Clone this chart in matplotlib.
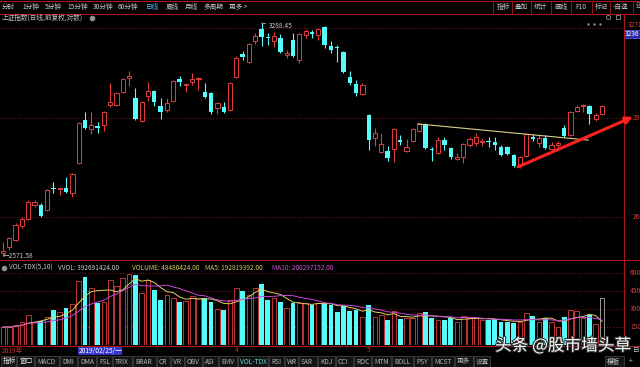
import matplotlib
matplotlib.use("Agg")
import numpy as np
import pandas as pd
import matplotlib.pyplot as plt
from matplotlib.patches import Rectangle
from matplotlib import patheffects

plt.rcParams['font.family'] = ['Noto Sans CJK SC', 'DejaVu Sans']

W, H = 640, 367

# 上证指数 daily candles
opens = [2580, 2596, 2615, 2654, 2674, 2714, 2714, 2699, 2763, 2760,
         2763, 2748, 2836, 2968, 2941, 2950, 2953, 3016, 3016, 3058,
         3103, 3038, 2966, 3045, 3061, 3012, 3000, 3028, 3100, 3080,
         3090, 3100, 3058, 3054, 3006, 3009, 3000, 3106, 3182, 3156,
         3226, 3268, 3240, 3226, 3236, 3179, 3230, 3162, 3247, 3257,
         3247, 3274, 3209, 3206, 3189, 3106, 3083, 3051, 2984, 2912,
         2870, 2873, 2879, 2906, 2873, 2903, 2934, 2956, 2879, 2867,
         2906, 2882, 2849, 2855, 2891, 2897, 2900, 2903, 2900, 2885,
         2885, 2861, 2834, 2858, 2916, 2897, 2912, 2879, 2891, 2943,
         2922, 2997, 3013, 3012, 2971, 2987]
highs = [2610, 2624, 2663, 2680, 2728, 2728, 2719, 2760, 2780, 2766,
         2795, 2807, 2962, 2993, 2993, 2962, 2997, 3086, 3058, 3103,
         3126, 3070, 3028, 3090, 3064, 3038, 3038, 3096, 3109, 3086,
         3119, 3106, 3086, 3058, 3025, 3025, 3090, 3175, 3192, 3220,
         3254, 3288.45, 3254, 3257, 3250, 3196, 3254, 3254, 3268, 3264,
         3271, 3278, 3226, 3213, 3192, 3126, 3096, 3086, 2987, 2943,
         2928, 2888, 2943, 2922, 2910, 2943, 2959, 2959, 2885, 2916,
         2916, 2885, 2867, 2897, 2916, 2928, 2912, 2916, 2916, 2891,
         2888, 2864, 2858, 2928, 2925, 2922, 2922, 2900, 2903, 2953,
         2997, 3016, 3019, 3016, 2991, 3016]
lows = [2571.58, 2588, 2612, 2649, 2671, 2708, 2680, 2697, 2748, 2743,
        2748, 2737, 2834, 2941, 2925, 2928, 2934, 3009, 3012, 3054,
        3077, 2969, 2962, 3028, 3012, 2972, 2994, 3025, 3077, 3058,
        3080, 3064, 3038, 2987, 2987, 2991, 2997, 3103, 3162, 3152,
        3216, 3210, 3213, 3206, 3186, 3169, 3172, 3152, 3236, 3236,
        3230, 3203, 3186, 3156, 3119, 3080, 3045, 3048, 2876, 2888,
        2867, 2843, 2840, 2891, 2870, 2900, 2931, 2879, 2843, 2864,
        2876, 2849, 2846, 2837, 2885, 2888, 2888, 2885, 2876, 2858,
        2861, 2825, 2822, 2855, 2903, 2885, 2879, 2876, 2885, 2916,
        2919, 2994, 2994, 2956, 2965, 2984]
closes = [2585, 2621, 2657, 2674, 2722, 2722, 2682, 2757, 2760, 2763,
          2751, 2804, 2959, 2944, 2953, 2944, 2993, 3025, 3054, 3100,
          3109, 2972, 3025, 3061, 3025, 2994, 3022, 3093, 3090, 3083,
          3100, 3103, 3042, 2994, 3022, 2994, 3086, 3169, 3172, 3216,
          3243, 3240, 3236, 3243, 3189, 3186, 3176, 3250, 3261, 3250,
          3268, 3213, 3196, 3203, 3122, 3086, 3054, 3080, 2906, 2928,
          2894, 2852, 2940, 2900, 2885, 2940, 2956, 2882, 2876, 2906,
          2891, 2855, 2855, 2894, 2910, 2916, 2903, 2900, 2891, 2861,
          2864, 2828, 2855, 2925, 2910, 2912, 2882, 2891, 2897, 2919,
          2994, 3009, 3016, 2987, 2984, 3012]
# volume, 1e8 shares
volumes = [1.50, 1.50, 1.67, 1.92, 2.50, 1.92, 2.00, 2.33, 2.92, 2.75,
           3.08, 3.42, 5.33, 5.67, 4.75, 3.50, 3.58, 5.42, 4.92, 5.58,
           5.92, 5.83, 4.33, 5.42, 4.58, 3.75, 4.17, 3.92, 3.58, 3.67,
           4.08, 3.92, 3.92, 3.58, 3.00, 2.92, 3.75, 4.75, 4.50, 4.17,
           4.75, 5.08, 3.75, 3.92, 3.58, 3.08, 3.50, 3.50, 3.50, 3.33,
           3.50, 3.50, 3.33, 2.75, 3.25, 2.83, 2.92, 2.33, 3.33, 2.33,
           2.50, 2.08, 2.83, 2.17, 2.25, 2.25, 2.67, 2.75, 2.25, 2.08,
           2.08, 2.25, 1.92, 2.42, 2.25, 2.25, 2.08, 2.08, 2.17, 1.92,
           1.92, 1.83, 1.92, 2.67, 2.42, 1.92, 2.25, 1.92, 1.50, 2.33,
           2.92, 2.83, 2.25, 2.50, 1.75, 0.4848]
vvol_last = 3.92691424
month_marks = [(37, '4'), (58, '5')]

grid_prices = [3271, 2974, 2680]
vol_ticks = [6.0, 4.5, 3.0, 1.5]
vol_tick_labels = ['60000', '45000', '30000', '15000']

# user drawn lines
trend_x = [65.8, 92.8]
trend_y = [2956, 2906]
arrow_from = (81.7, 2825)
arrow_to = (99.9, 2978)

UP = '#e03c3c'
DOWN = '#54fcfc'
GRID = '#8a1a1a'
FRAME = '#a81818'
TXT = '#c8c8c8'
XLIM = (-0.476, 98.33)

fig = plt.figure(figsize=(W / 100, H / 100), dpi=100, facecolor='black')


def box(x0, y0, x1, y1):
    return [x0 / W, 1 - y1 / H, (x1 - x0) / W, (y1 - y0) / H]


# screen furniture in pixel coords
ui = fig.add_axes([0, 0, 1, 1], zorder=-1)
ui.set_xlim(0, W)
ui.set_ylim(H, 0)
ui.axis('off')

for y in (0.5, 13.5, 260, 345.5):
    ui.plot([0, W], [y, y], color=FRAME, lw=0.8)
ui.plot([623.5, 623.5], [13.5, 345.5], color=FRAME, lw=0.8)

left_tabs = [('分时', 2), ('1分钟', 22), ('5分钟', 45), ('15分钟', 67), ('30分钟', 93),
             ('60分钟', 118), ('日线', 146), ('周线', 166), ('月线', 185),
             ('多周期', 203), ('更多 >', 229)]
for label, x in left_tabs:
    ui.text(x, 7.2, label, color='#5ab4ff' if label == '日线' else TXT,
            fontsize=4.8, va='center')

right_tabs = [('指标', 497), ('叠加', 515), ('统计', 534), ('画线', 554),
              ('F10', 575), ('标记', 595), ('-自选', 613), ('还', 636)]
for label, x in right_tabs:
    ui.text(x, 7.2, label, color=TXT, fontsize=4.8, va='center')
for x in (493, 512, 531, 551, 571, 592, 610, 633):
    ui.plot([x, x], [1, 13], color=FRAME, lw=0.6)

ui.text(2, 17.5, '上证指数(日线,前复权,对数)', color=TXT, fontsize=4.8, va='center')
ui.plot(92, 17.5, 'o', ms=3, color='#909090')
ui.plot([588, 594, 600], [24, 24, 24], '.', ms=1.5, color='#909090')
ui.plot(608, 17, 'o', ms=3, mfc='none', mec='#909090', mew=0.6)
ui.plot(618, 17, 's', ms=3, mfc='none', mec='#909090', mew=0.6)

ui.add_patch(Rectangle((624, 29.5), 16, 8, facecolor='#2c2ca8', edgecolor='#6060ff', lw=0.5))
ui.text(625, 33.6, '3236', color='white', fontsize=4.8, va='center')

# price pane
ax = fig.add_axes(box(0, 20, 623, 258))
ax.set_facecolor('none')
ax.set_yscale('log')
ax.set_xlim(*XLIM)
ax.set_ylim(2565.7, 3298.9)
ax.axis('off')

for i, p in enumerate(grid_prices):
    ax.axhline(p, color=GRID, lw=0.7, ls=(0, (1, 2)), zorder=0)
    ax.annotate(str(p), xy=(1.008 if i == 0 else 1.016, p), xycoords=ax.get_yaxis_transform(),
                xytext=(0, 3 if i == 0 else 0), textcoords='offset pixels',
                color='#d04040', fontsize=4.8, va='center', annotation_clip=False)

o, h, l, c = map(np.array, (opens, highs, lows, closes))
idx = np.arange(len(o))
up = c >= o
ax.vlines(idx, l, h, colors=np.where(up, UP, DOWN), lw=0.8, zorder=2)
lo = np.minimum(o, c)
ht = np.maximum(np.abs(c - o), lo * 0.001)
ax.bar(idx[up], ht[up], bottom=lo[up], width=0.68, facecolor='black',
       edgecolor=UP, lw=0.7, zorder=3)
ax.bar(idx[~up], ht[~up], bottom=lo[~up], width=0.68, color=DOWN, lw=0, zorder=3)

i_hi = int(np.argmax(h))
i_lo = int(np.argmin(l))
ax.annotate(f'{h[i_hi]:.2f}', xy=(i_hi, h[i_hi]), xytext=(7, -3), textcoords='offset pixels',
            color=TXT, fontsize=4.8, va='center',
            arrowprops=dict(arrowstyle='-', color=TXT, lw=0.5, shrinkA=0, shrinkB=0))
ax.text(i_lo, l[i_lo], f'←{l[i_lo]:.2f}', color=TXT, fontsize=4.8, va='center')

ax.plot(trend_x, trend_y, color='#d8d088', lw=0.8, zorder=4)
ax.annotate('', xy=arrow_to, xytext=arrow_from, annotation_clip=False, zorder=6,
            arrowprops=dict(arrowstyle='-|>', color='#ff2020', lw=2.2,
                            mutation_scale=10, shrinkA=0, shrinkB=0))

# volume pane
av = fig.add_axes(box(0, 262, 623, 345))
av.set_facecolor('none')
av.set_xlim(*XLIM)
av.set_ylim(0, 6.917)
av.axis('off')

v = np.array(volumes)
for t, lab in zip(vol_ticks, vol_tick_labels):
    av.axhline(t, color=GRID, lw=0.7, ls=(0, (1, 2)), zorder=0)
    av.text(1.0112, t, lab, transform=av.get_yaxis_transform(), color='#d04040',
            fontsize=4.8, va='center', clip_on=False)
av.bar(idx[-1], vvol_last, width=0.75, facecolor='none', edgecolor='#9a9a9a', lw=0.7, zorder=1)
av.bar(idx[up], v[up], width=0.75, facecolor='black', edgecolor=UP, lw=0.6, zorder=2)
av.bar(idx[~up], v[~up], width=0.75, color=DOWN, lw=0, zorder=2)
ma5 = pd.Series(v).rolling(5, min_periods=1).mean()
ma10 = pd.Series(v).rolling(10, min_periods=1).mean()
av.plot(idx, ma5, color='#e0d060', lw=0.7, zorder=3)
av.plot(idx, ma10, color='#c848d8', lw=0.7, zorder=3)

ui.plot(4, 268, 'o', ms=3, color='#909090')
header = [('VOL-TDX(5,10)', 9, TXT), ('VVOL: 392691424.00', 58, TXT),
          ('VOLUME: 48480424.00', 132, '#d8c860'), ('MA5: 192819392.00', 205, '#d8c860'),
          ('MA10: 200297152.00', 272, '#d050d0')]
for label, x, col in header:
    ui.text(x, 268, label, color=col, fontsize=4.7, va='center')

# date row
ui.text(2, 350.5, '2019年', color='#c03030', fontsize=4.8, va='center')
ui.add_patch(Rectangle((78, 346.5), 44, 8, facecolor='#3434c8', edgecolor='none'))
ui.text(79, 350.5, '2019/02/25/一', color='white', fontsize=4.8, va='center')
for i, lab in month_marks:
    av.text(i, -0.06, lab, transform=av.get_xaxis_transform(), color='#c03030',
            fontsize=4.8, va='center', ha='center', clip_on=False)

# indicator tabs
tabs = [('指标', 2), ('窗口', 18), ('MACD', 36), ('DMI', 61), ('DMA', 79), ('FSL', 98),
        ('TRIX', 114), ('BRAR', 134), ('CR', 158), ('VR', 172), ('OBV', 186), ('ASI', 204),
        ('EMV', 220), ('VOL-TDX', 239), ('RSI', 270), ('WR', 286), ('SAR', 300),
        ('KDJ', 319), ('CCI', 337), ('ROC', 355), ('MTM', 373), ('BOLL', 393),
        ('PSY', 415), ('MCST', 433), ('更多', 456), ('设置', 475)]
ends = [x for _, x in tabs[1:]] + [492]
for (label, x), x_end in zip(tabs, ends):
    ui.add_patch(Rectangle((x - 1, 356), x_end - x - 1, 10.5, facecolor='#141414',
                           edgecolor='#4a4a4a', lw=0.5))
    col = '#60d8d8' if label == 'VOL-TDX' else ('#e8e8e8' if label in ('指标', '窗口') else '#b4b4b4')
    ui.text(x + 1, 361.5, label, color=col, fontsize=4.8, va='center')
ui.add_patch(Rectangle((605, 356), 19, 10.5, facecolor='#141414', edgecolor='#4a4a4a', lw=0.5))
ui.text(607, 361.5, '模板', color=TXT, fontsize=4.8, va='center')
ui.text(629, 361.5, '+', color=TXT, fontsize=5, va='center')
ui.text(633, 350, '日', color=TXT, fontsize=4.8, va='center')

wm = fig.text(495 / W, 1 - 346 / H, '头条 @股市墙头草', color='white', fontsize=12, va='center')
wm.set_path_effects([patheffects.withStroke(linewidth=1.5, foreground='#303030')])

fig.savefig('out.png', dpi=100, facecolor='black')
